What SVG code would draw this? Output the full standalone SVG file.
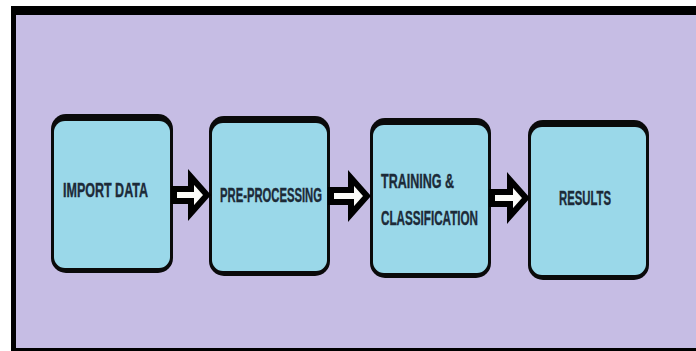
<svg xmlns="http://www.w3.org/2000/svg" width="696" height="351" viewBox="0 0 696 351">
<style>
.frame{fill:#000}
.bg{fill:#c6bde4}
.outer{fill:#0a0a0a}
.inner{fill:#9ad8e9}
.lbl{font-family:"Liberation Sans",Arial,sans-serif;font-weight:bold;font-size:21px;fill:#1c2a38;stroke:#1c2a38;stroke-width:0.4}
.arr{fill:#fbfbf8;stroke:#000;stroke-width:6;stroke-linejoin:miter}
</style>
<rect x="0" y="0" width="696" height="351" fill="#ffffff"/>
<rect class="frame" x="11" y="6" width="700" height="345"/>
<rect class="bg" x="16" y="15" width="700" height="333"/>
<g id="node-import">
<rect class="outer" x="51" y="114" width="122" height="159" rx="15"/>
<rect class="inner" x="54" y="121" width="116" height="147" rx="11"/>
<text class="lbl" x="63" y="197" textLength="85" lengthAdjust="spacingAndGlyphs">IMPORT DATA</text>
</g>
<g id="node-preprocessing">
<rect class="outer" x="209" y="116" width="121" height="160" rx="15"/>
<rect class="inner" x="212" y="123" width="115" height="148" rx="11"/>
<text class="lbl" x="220" y="202" textLength="102" lengthAdjust="spacingAndGlyphs">PRE-PROCESSING</text>
</g>
<g id="node-training">
<rect class="outer" x="370" y="118" width="121" height="160" rx="15"/>
<rect class="inner" x="373" y="125" width="115" height="148" rx="11"/>
<text class="lbl" x="381" y="188" textLength="73" lengthAdjust="spacingAndGlyphs">TRAINING &amp;</text>
<text class="lbl" x="381" y="225" textLength="97" lengthAdjust="spacingAndGlyphs">CLASSIFICATION</text>
</g>
<g id="node-results">
<rect class="outer" x="528" y="120" width="121" height="160" rx="15"/>
<rect class="inner" x="531" y="127" width="115" height="148" rx="11"/>
<text class="lbl" x="559" y="205" textLength="52" lengthAdjust="spacingAndGlyphs">RESULTS</text>
</g>
<g id="connectors">
<path class="arr" d="M174 189 H191 V177 L207 195 L191 213 V201 H174 Z"/>
<path class="arr" d="M331 190 H351 V178 L367 196 L351 214 V202 H331 Z"/>
<path class="arr" d="M492 192 H510 V180 L526 198 L510 216 V204 H492 Z"/>
</g>
</svg>
